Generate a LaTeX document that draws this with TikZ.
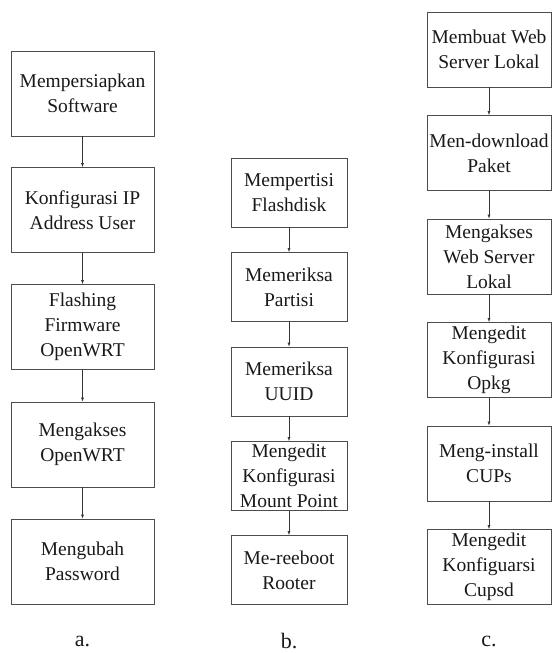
\documentclass[tikz,border=0pt]{standalone}
\usepackage{fontspec}
\setmainfont{Liberation Serif}
\usetikzlibrary{arrows.meta}
\begin{document}
\begin{tikzpicture}[x=1pt,y=-1pt,
  boxa/.style={draw=black!70,line width=0.8pt,minimum width=143pt,minimum height=85pt,inner sep=0pt,align=center,text=black!90,font=\fontsize{19.5}{25}\selectfont},
  boxb/.style={boxa,minimum width=116pt,minimum height=69pt},
  boxc/.style={boxa,minimum width=124pt,minimum height=75pt},
  arr/.style={draw=black!80,line width=0.6pt,-{Latex[length=4pt,width=3pt]}},
  lab/.style={font=\fontsize{22}{26}\selectfont,text=black!90}]
\useasboundingbox (0,0) rectangle (552,653);
% column a
\node[boxa] (a1) at (82.5,93.5) {Mempersiapkan\\Software};
\node[boxa] (a2) at (82.5,210) {Konfigurasi IP\\Address User};
\node[boxa] (a3) at (82.5,327) {Flashing\\Firmware\\OpenWRT};
\node[boxa] (a4) at (82.5,444.5) {Mengakses\\OpenWRT};
\node[boxa] (a5) at (82.5,561.5) {Mengubah\\Password};
\draw[arr] (a1) -- (a2);
\draw[arr] (a2) -- (a3);
\draw[arr] (a3) -- (a4);
\draw[arr] (a4) -- (a5);
\node[lab] (la) at (82.5,641) {a.};
% column b
\node[boxb] (b1) at (289,192.5) {Mempertisi\\Flashdisk};
\node[boxb] (b2) at (289,287) {Memeriksa\\Partisi};
\node[boxb] (b3) at (289,381.5) {Memeriksa\\UUID};
\node[boxb] (b4) at (289,476) {Mengedit\\Konfigurasi\\Mount Point};
\node[boxb] (b5) at (289,570) {Me-reeboot\\Rooter};
\draw[arr] (b1) -- (b2);
\draw[arr] (b2) -- (b3);
\draw[arr] (b3) -- (b4);
\draw[arr] (b4) -- (b5);
\node[lab] (lb) at (289,641) {b.};
% column c
\node[boxc] (c1) at (489,49.5) {Membuat Web\\Server Lokal};
\node[boxc] (c2) at (489,153) {Men-download\\Paket};
\node[boxc] (c3) at (489,256.5) {Mengakses\\Web Server\\Lokal};
\node[boxc] (c4) at (489,360) {Mengedit\\Konfigurasi\\Opkg};
\node[boxc] (c5) at (489,463.5) {Meng-install\\CUPs};
\node[boxc] (c6) at (489,567) {Mengedit\\Konfiguarsi\\Cupsd};
\draw[arr] (c1) -- (c2);
\draw[arr] (c2) -- (c3);
\draw[arr] (c3) -- (c4);
\draw[arr] (c4) -- (c5);
\draw[arr] (c5) -- (c6);
\node[lab] (lc) at (489,641) {c.};
\end{tikzpicture}
\end{document}
